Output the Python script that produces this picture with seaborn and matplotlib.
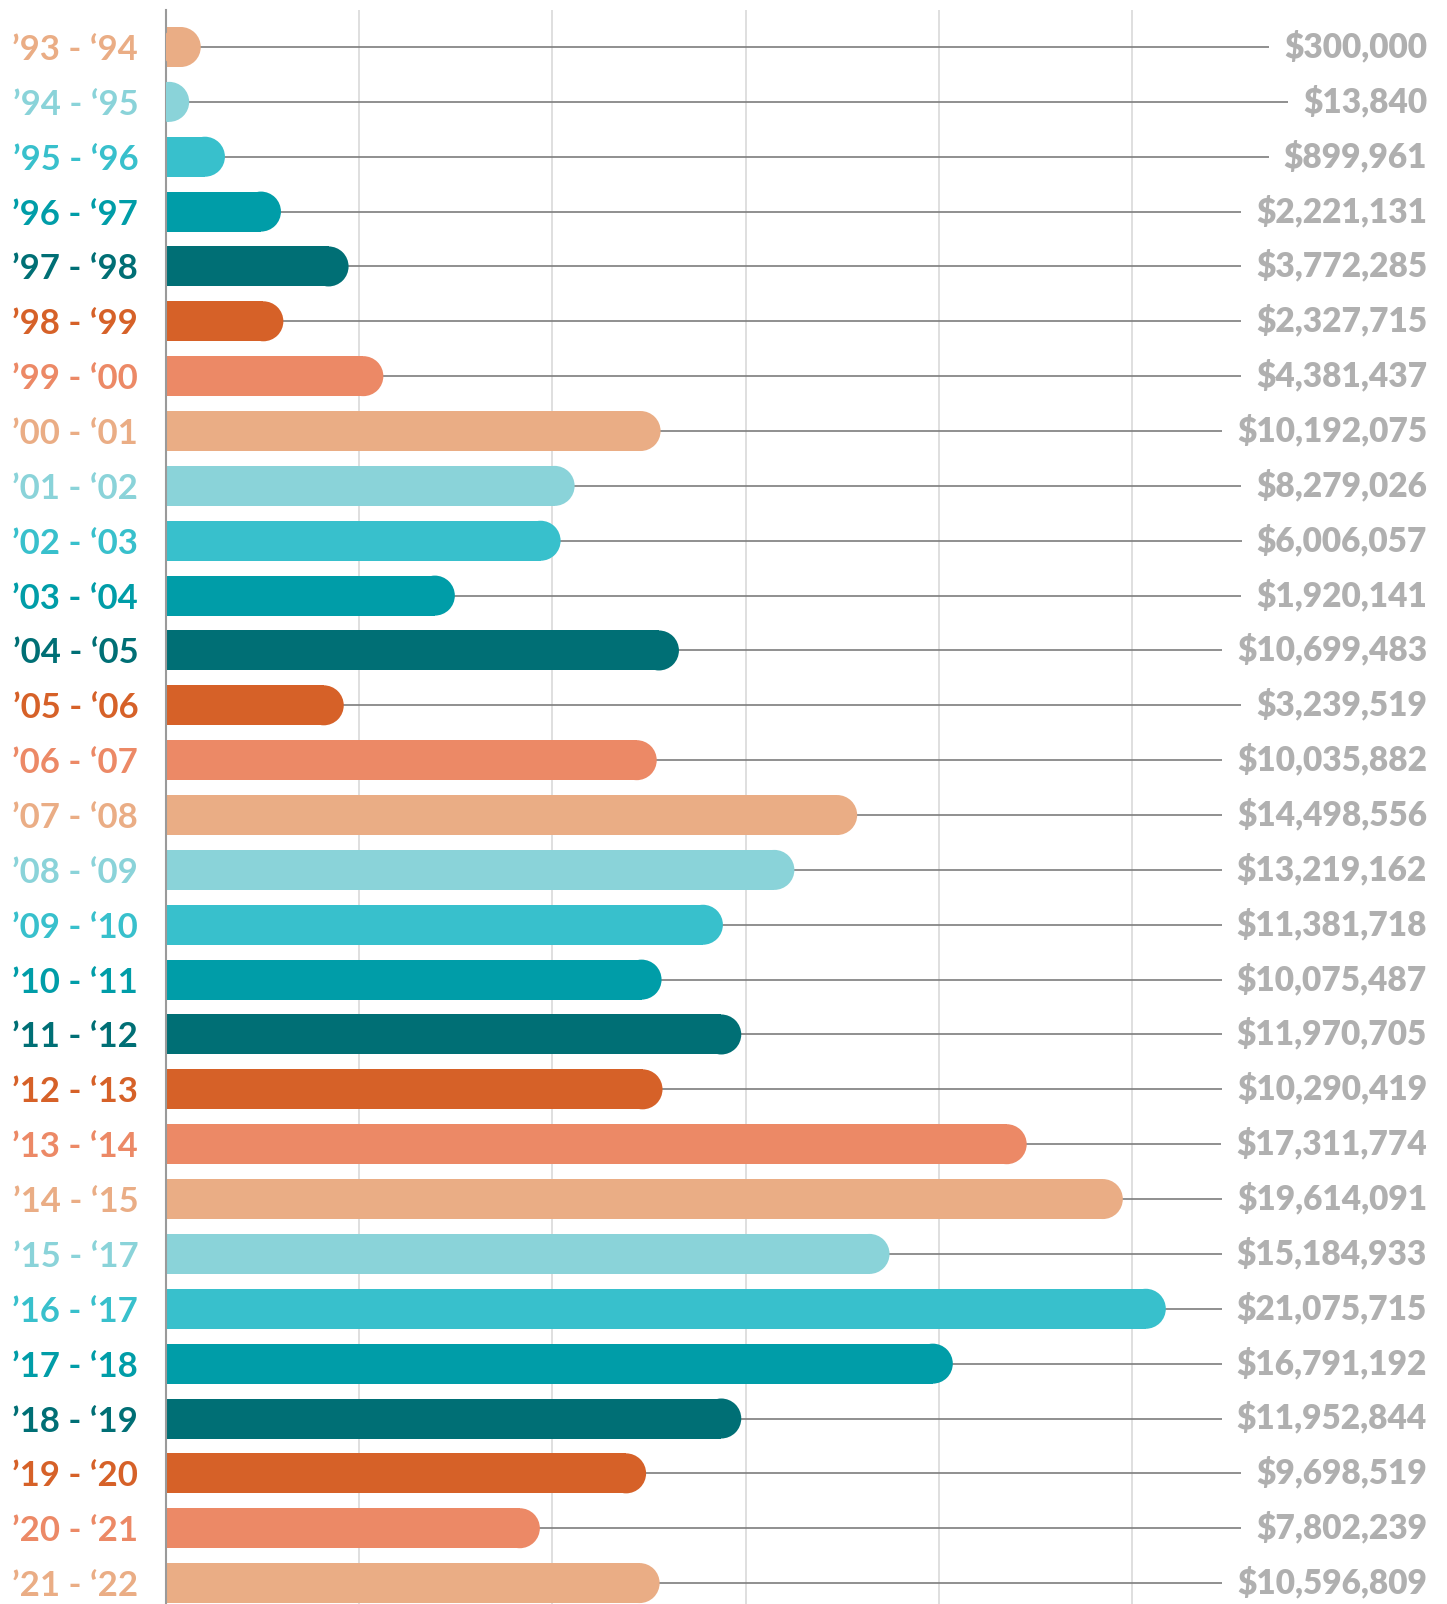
import numpy as np
import pandas as pd
import matplotlib
matplotlib.use('Agg')
import matplotlib.pyplot as plt
import matplotlib.transforms as mtransforms
import seaborn as sns

# ============================================================
# DATA
# ============================================================

seasons = ['’93 - ‘94', '’94 - ‘95', '’95 - ‘96', '’96 - ‘97', '’97 - ‘98',
           '’98 - ‘99', '’99 - ‘00', '’00 - ‘01', '’01 - ‘02', '’02 - ‘03',
           '’03 - ‘04', '’04 - ‘05', '’05 - ‘06', '’06 - ‘07', '’07 - ‘08',
           '’08 - ‘09', '’09 - ‘10', '’10 - ‘11', '’11 - ‘12', '’12 - ‘13',
           '’13 - ‘14', '’14 - ‘15', '’15 - ‘17', '’16 - ‘17', '’17 - ‘18',
           '’18 - ‘19', '’19 - ‘20', '’20 - ‘21', '’21 - ‘22']

amounts = [300000, 13840, 899961, 2221131, 3772285,
           2327715, 4381437, 10192075, 8279026, 6006057,
           1920141, 10699483, 3239519, 10035882, 14498556,
           13219162, 11381718, 10075487, 11970705, 10290419,
           17311774, 19614091, 15184933, 21075715, 16791192,
           11952844, 9698519, 7802239, 10596809]

# bar lengths as drawn in the picture ($M)
bar_len = [0.72, 0.48, 1.22, 2.38, 3.78,
           2.43, 4.50, 10.24, 8.46, 8.17,
           5.98, 10.62, 3.68, 10.16, 14.31,
           13.01, 11.53, 10.26, 11.91, 10.28,
           17.82, 19.81, 14.98, 20.70, 16.29,
           11.91, 9.94, 7.74, 10.22]

cycle = ['#EAAD85', '#8AD3D9', '#38C0CC', '#009DA8', '#006F75', '#D66128', '#EC8966']

# ============================================================
# LAYOUT (pixels)
# ============================================================

W, H, DPI = 1447, 1604, 100
X0, X_RIGHT = 166, 1427          # axis line, right edge of value labels
PX_PER_M = 48.3
TOP, ROW0, STEP = 10, 47, 54.86
BAR_H = 40
r = (BAR_H / 2) / PX_PER_M        # cap radius in $M

df = pd.DataFrame({'season': seasons, 'amount': amounts, 'bar': bar_len})
df['row'] = np.arange(len(df))
df['color'] = [cycle[i % 7] for i in range(len(df))]
df['rect'] = np.maximum(df['bar'] - r, 0)

sns.set_style('white')
plt.rcParams['font.family'] = ['Lato', 'DejaVu Sans']

fig = plt.figure(figsize=(W / DPI, H / DPI), dpi=DPI)
ax = fig.add_axes([X0 / W, 0, (X_RIGHT - X0) / W, (H - TOP) / H])

xmax = (X_RIGHT - X0) / PX_PER_M
n = len(df)

# grid
for g in [4, 8, 12, 16, 20]:
    ax.axvline(g, color='#dcdcdc', lw=1.3, zorder=0)

# connector lines
ax.hlines(df['row'], df['bar'] - 0.05, xmax, color='#7d7d7d', lw=1.2, zorder=1)

# bars + round caps
pal = dict(zip(df['season'], df['color']))
sns.barplot(data=df, x='rect', y='season', hue='season', palette=pal, orient='h',
            width=BAR_H / STEP, legend=False, saturation=1, ax=ax, zorder=2)
for p in ax.patches:
    p.set_linewidth(0)
size_pt = BAR_H * 72 / DPI
sns.scatterplot(data=df, x='rect', y='row', hue='season', palette=pal,
                s=size_pt ** 2, marker='o', linewidth=0, legend=False,
                ax=ax, zorder=3)

ax.set_xlim(0, xmax)
ax.set_ylim(n - 1 + (H - (ROW0 + STEP * (n - 1))) / STEP, -(ROW0 - TOP) / STEP)
ax.set_xticks([])
ax.set_xlabel('')
ax.set_ylabel('')

ax.set_yticks(df['row'], df['season'])
ax.tick_params(axis='y', length=3, width=1, color='#9a9a9a', pad=17, labelsize=25)
for lab, c in zip(ax.get_yticklabels(), df['color']):
    lab.set_color(c)
    lab.set_fontweight('bold')

sns.despine(ax=ax, left=False, bottom=True)
ax.spines['left'].set_color('#9a9a9a')
ax.spines['left'].set_linewidth(1.5)

trans = mtransforms.blended_transform_factory(ax.transAxes, ax.transData)
for row, amt in zip(df['row'], df['amount']):
    ax.text(1.0, row, f'${amt:,.0f}', transform=trans, ha='right', va='center',
            fontsize=24, fontweight='heavy', color='#b0b0b0', zorder=5,
            bbox=dict(boxstyle='square,pad=0.45', fc='white', ec='none'))

fig.savefig('out.png', dpi=DPI)
